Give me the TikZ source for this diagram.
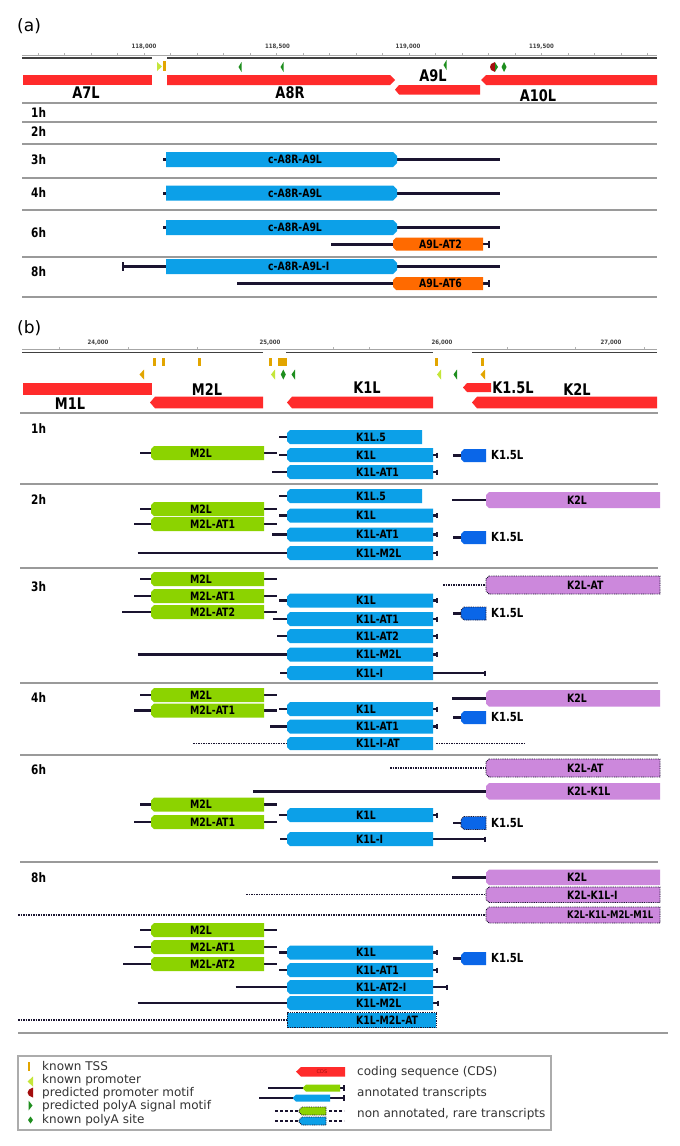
\documentclass[tikz,border=0pt]{standalone}
\usepackage{fontspec}
\setmainfont{DejaVu Sans}
\newfontfamily\cond{DejaVu Sans Condensed}
\newfontfamily\condn{DejaVu Sans Condensed}[FakeStretch=0.9]
\definecolor{cred}{HTML}{FF2B2B}
\definecolor{cblue}{HTML}{0CA0E8}
\definecolor{cgreen}{HTML}{8CD300}
\definecolor{cpurple}{HTML}{CC88DC}
\definecolor{corange}{HTML}{FF6A00}
\definecolor{cdblue}{HTML}{0A66E8}
\definecolor{ctail}{HTML}{1A1430}
\definecolor{csep}{HTML}{9A9A9A}
\definecolor{ctss}{HTML}{E2A500}
\definecolor{cprom}{HTML}{C4E63A}
\definecolor{cpolya}{HTML}{1E8E1E}
\definecolor{cpmot}{HTML}{A30D0D}
\newcounter{nn}
% left-chamfered bar: style, x1, x2, y1, y2
\newcommand{\lbar}[5]{\path[#1] ({#2+3},{#4}) -- ({#3},{#4}) -- ({#3},{#5}) -- ({#2+3},{#5}) -- ({#2},{#5-3}) -- ({#2},{#4+3}) -- cycle;}
% right-chamfered bar
\newcommand{\rbar}[5]{\path[#1] ({#2},{#4}) -- ({#3-4},{#4}) -- ({#3},{#4+4}) -- ({#3},{#5-4}) -- ({#3-4},{#5}) -- ({#2},{#5}) -- cycle;}
\newcommand{\lbl}[3][]{\stepcounter{nn}\node[tl,#1] (n\thenn) at #2 {#3};}
% M2L transcript: ytop, left tail start, label
\newcommand{\Mtwo}[3]{%
 \draw[tail] (#2,{#1+7}) -- (153,{#1+7});
 \draw[tail] (262,{#1+7}) -- (277,{#1+7});
 \lbar{fill=cgreen}{151}{264}{#1}{#1+14}
 \lbl{(190,{#1+7})}{#3}}
% K1L transcript: ytop, left tail start, right end, label
\newcommand{\Kone}[4]{%
 \draw[tail] (#2,{#1+7}) -- (289,{#1+7});
 \draw[tail] (431,{#1+7}) -- (#3,{#1+7});
 \draw[tk] (#3,{#1+4.5}) -- (#3,{#1+9.5});
 \lbar{fill=cblue}{287}{433}{#1}{#1+14}
 \lbl{(356,{#1+7})}{#4}}
\newcommand{\Konefive}[1]{%
 \draw[tail] (279,{#1+7}) -- (289,{#1+7});
 \lbar{fill=cblue}{287}{422}{#1}{#1+14}
 \lbl{(356,{#1+7})}{K1L.5}}
% K1.5L: ytop, extra style
\newcommand{\Kfive}[2]{%
 \draw[tail] (453,{#1+6.5}) -- (463,{#1+6.5});
 \lbar{fill=cdblue,#2}{461}{486}{#1}{#1+13}
 \lbl[font=\condn\bfseries\fontsize{12.5}{14}\selectfont]{(491,{#1+6.5})}{K1.5L}}
% K2L: ytop, tail start, tail style, bar style, height, label
\newcommand{\Ktwo}[6]{%
 \draw[#3] (#2,{#1+#5/2}) -- (488,{#1+#5/2});
 \lbar{fill=cpurple,#4}{486}{660}{#1}{#1+#5}
 \lbl{(567,{#1+#5/2})}{#6}}
% c-A8R-A9L: ytop, left tail start, label
\newcommand{\cAR}[3]{%
 \draw[atail] (#2,{#1+7.5}) -- (168,{#1+7.5});
 \draw[atail] (394,{#1+7.5}) -- (500,{#1+7.5});
 \rbar{fill=cblue}{166}{397}{#1}{#1+15}
 \lbl{(268,{#1+7.5})}{#3}}
% A9L-AT: ytop, tail start, label
\newcommand{\Anine}[3]{%
 \draw[atail] (#2,{#1+6.5}) -- (395,{#1+6.5});
 \draw[tail] (482,{#1+6.5}) -- (489,{#1+6.5});
 \draw[tk] (489,{#1+3}) -- (489,{#1+10});
 \lbar{fill=corange}{393}{483}{#1}{#1+13}
 \lbl{(419,{#1+6.5})}{#3}}
\begin{document}
\begin{tikzpicture}[x=1pt,y=-1pt,
 tail/.style={draw=ctail,line width=2.5pt},
 atail/.style={draw=ctail,line width=3pt},
 dtail/.style={draw=ctail,line width=1.1pt,dash pattern=on 1.6pt off 0.9pt},
 tk/.style={draw=ctail,line width=1.3pt},
 sep/.style={draw=csep,line width=1.3pt},
 dotb/.style={draw=ctail,line width=0.8pt,dash pattern=on 0.9pt off 0.9pt},
 tl/.style={font=\condn\bfseries\fontsize{11.5}{13}\selectfont,inner sep=0pt,anchor=west},
 cdsl/.style={font=\condn\bfseries\fontsize{16}{18}\selectfont,inner sep=0pt},
 hl/.style={font=\condn\bfseries\fontsize{13}{15}\selectfont,inner sep=0pt,anchor=west},
 rl/.style={font=\cond\bfseries\fontsize{6}{7}\selectfont,inner sep=0pt,text=black!75},
 leg/.style={font=\fontsize{12}{14}\selectfont,inner sep=0pt,anchor=west,text=black!80},
 pl/.style={font=\fontsize{17}{20}\selectfont,inner sep=0pt,anchor=west},
 rtk/.style={draw=gray!60,line width=0.6pt}]
\useasboundingbox (0,0) rectangle (680,1146);
\fill[white] (0,0) rectangle (680,1146);

%%%%%%%%%%%%%%%% panel (a)
\node[pl] (pa) at (17,26) {(a)};
\draw[gray!70,line width=0.8pt] (22,55.5) -- (657,55.5);
\draw[black!75,line width=1.8pt] (22,58.3) -- (152,58.3) (167,58.3) -- (657,58.3);
\foreach \i in {-4,...,19} \draw[rtk] ({144+26.5*\i},55) -- ({144+26.5*\i},52.5);
\node[rl] (ta1) at (144,47) {118,000};
\node[rl] (ta2) at (277.5,47) {118,500};
\node[rl] (ta3) at (408,47) {119,000};
\node[rl] (ta4) at (541.5,47) {119,500};
% markers
\fill[cprom] (157,62) -- (162,66.5) -- (157,71) -- cycle;
\fill[ctss] (163,60.5) rectangle (166,71);
\foreach \x in {240,282} \fill[cpolya] ({\x+1.5},62) -- ({\x-1.5},67) -- ({\x+1.5},72) -- cycle;
\fill[cpolya] (446.5,60) -- (443.5,65) -- (446.5,70) -- cycle;
\fill[cpmot] (495,62) -- (491,64) -- (490,67) -- (491,70) -- (495,72) -- cycle;
\fill[cpolya] (495,62.5) -- (498,67) -- (495,71.5) -- cycle;
\fill[cpolya] (504,62) -- (506.5,67) -- (504,72) -- (501.5,67) -- cycle;
% CDS
\fill[cred] (23,75) rectangle (152,85);
\fill[cred] (167,75) -- (390,75) -- (395,80) -- (390,85) -- (167,85) -- cycle;
\fill[cred] (399,85) -- (480,85) -- (480,94.5) -- (399,94.5) -- (395,89.7) -- cycle;
\fill[cred] (486,75) -- (657,75) -- (657,85) -- (486,85) -- (481,80) -- cycle;
\node[cdsl] (a7l) at (86,93) {A7L};
\node[cdsl] (a8r) at (290,93) {A8R};
\node[cdsl] (a9l) at (433,75.5) {A9L};
\node[cdsl] (a10l) at (538,96) {A10L};
% separators
\foreach \y in {103,122,144,178,210,257,297} \draw[sep] (22,\y) -- (657,\y);
\node[hl] (a1h) at (31,113) {1h};
\node[hl] (a2h) at (31,132) {2h};
\node[hl] (a3h) at (31,160) {3h};
\node[hl] (a4h) at (31,193) {4h};
\node[hl] (a6h) at (31,233) {6h};
\node[hl] (a8h) at (31,272) {8h};
\cAR{152}{163}{c-A8R-A9L}
\cAR{185.5}{163}{c-A8R-A9L}
\cAR{220}{163}{c-A8R-A9L}
\Anine{237.5}{331}{A9L-AT2}
\cAR{259}{123}{c-A8R-A9L-I}
\draw[tk] (123,262) -- (123,271);
\Anine{277}{237}{A9L-AT6}

%%%%%%%%%%%%%%%% panel (b)
\node[pl] (pb) at (17,328) {(b)};
\draw[gray!70,line width=0.8pt] (22,349.5) -- (657,349.5);
\draw[black!75,line width=1.8pt] (22,352.5) -- (263,352.5) (286,352.5) -- (433,352.5) (472,352.5) -- (657,352.5);
\foreach \x in {59,128,197,333,369,507,575,644} \draw[rtk] (\x,349) -- (\x,346.5);
\node[rl] (tb1) at (98,342.5) {24,000};
\node[rl] (tb2) at (270,342.5) {25,000};
\node[rl] (tb3) at (442,342.5) {26,000};
\node[rl] (tb4) at (611,342.5) {27,000};
% TSS
\foreach \x in {154.3,163.3,199,270.7,436.7,482.7} \fill[ctss] ({\x-1.5},358) rectangle ({\x+1.5},366);
\fill[ctss] (277.5,358) rectangle (286.5,366);
% promoter / polyA markers
\fill[ctss] (144,369.5) -- (139.5,374.5) -- (144,379.5) -- cycle;
\fill[ctss] (485,369.5) -- (480.5,374.5) -- (485,379.5) -- cycle;
\fill[cprom] (275,369.5) -- (271,374.5) -- (275,379.5) -- cycle;
\fill[cprom] (441,369.5) -- (437,374.5) -- (441,379.5) -- cycle;
\fill[cpolya] (283.3,369.5) -- (285.8,374.5) -- (283.3,379.5) -- (280.8,374.5) -- cycle;
\fill[cpolya] (295,369.5) -- (291.5,374.5) -- (295,379.5) -- cycle;
\fill[cpolya] (457,369.5) -- (453.5,374.5) -- (457,379.5) -- cycle;
% CDS
\fill[cred] (23,383.3) rectangle (152,395);
\fill[cred] (155,396.7) -- (263,396.7) -- (263,408.3) -- (155,408.3) -- (150,402.5) -- cycle;
\fill[cred] (292,396.7) -- (433,396.7) -- (433,408.3) -- (292,408.3) -- (287,402.5) -- cycle;
\fill[cred] (477,396.7) -- (657,396.7) -- (657,408.3) -- (477,408.3) -- (472,402.5) -- cycle;
\fill[cred] (467,383) -- (491,383) -- (491,392) -- (467,392) -- (463,387.5) -- cycle;
\node[cdsl] (m1l) at (70,404) {M1L};
\node[cdsl] (m2l) at (207,389.5) {M2L};
\node[cdsl] (k1l) at (367,388) {K1L};
\node[cdsl] (k15l) at (513,388) {K1.5L};
\node[cdsl] (k2l) at (577,389.5) {K2L};
% separators
\foreach \y in {413,484,568,683,755,862} \draw[sep] (20,\y) -- (658,\y);
\draw[sep] (18,1033) -- (668,1033);
\node[hl] (b1h) at (31,429) {1h};
\node[hl] (b2h) at (31,500) {2h};
\node[hl] (b3h) at (31,587) {3h};
\node[hl] (b4h) at (31,698) {4h};
\node[hl] (b6h) at (31,770) {6h};
\node[hl] (b8h) at (31,878) {8h};
% 1h
\Konefive{430}
\Mtwo{446}{140}{M2L}
\Kone{448}{279}{437}{K1L}
\Kfive{449}{}
\Kone{465}{272}{437}{K1L-AT1}
% 2h
\Konefive{489}
\Ktwo{492}{452}{tail}{}{16}{K2L}
\Mtwo{502}{140}{M2L}
\Kone{508.5}{279}{437}{K1L}
\Mtwo{517}{134}{M2L-AT1}
\Kone{527.5}{272}{437}{K1L-AT1}
\Kfive{531}{}
\Kone{546}{137.5}{437}{K1L-M2L}
% 3h
\Mtwo{572}{140}{M2L}
\Ktwo{576}{443}{dtail}{dotb}{18}{K2L-AT}
\Mtwo{589}{134}{M2L-AT1}
\Kone{593.5}{279}{437}{K1L}
\Mtwo{605}{122}{M2L-AT2}
\Kfive{607}{dotb}
\Kone{612}{272.6}{437}{K1L-AT1}
\Kone{629}{277}{437}{K1L-AT2}
\Kone{647.5}{137.5}{437}{K1L-M2L}
\Kone{666}{280}{485}{K1L-I}
% 4h
\Mtwo{688}{140}{M2L}
\Ktwo{690}{452}{tail}{}{16.5}{K2L}
\Kone{702}{279}{437}{K1L}
\Mtwo{703.5}{134}{M2L-AT1}
\Kfive{711}{}
\Kone{719.5}{270}{437}{K1L-AT1}
\draw[dtail] (193,743.5) -- (289,743.5);
\draw[dtail] (436,743.5) -- (525,743.5);
\lbar{fill=cblue}{287}{433}{737}{750}
\lbl{(356,743.5)}{K1L-I-AT}
% 6h
\Ktwo{759}{390}{dtail}{dotb}{18}{K2L-AT}
\Ktwo{783}{253}{tail}{}{16.5}{K2L-K1L}
\Mtwo{797.5}{140}{M2L}
\Kone{808}{279}{437}{K1L}
\Mtwo{815}{134}{M2L-AT1}
\Kfive{816.5}{dotb}
\Kone{832}{280}{485}{K1L-I}
% 8h
\Ktwo{869.5}{452}{tail}{}{15.5}{K2L}
\Ktwo{887}{246}{dtail}{dotb}{15.5}{K2L-K1L-I}
\draw[dtail] (18,915) -- (488,915);
\lbar{fill=cpurple,dotb}{486}{660}{907}{923}
\lbl[font=\condn\bfseries\fontsize{10.5}{12}\selectfont]{(567,915)}{K2L-K1L-M2L-M1L}
\Mtwo{923}{140}{M2L}
\Mtwo{940}{134}{M2L-AT1}
\Kone{945.5}{279}{437}{K1L}
\Kfive{952}{}
\Mtwo{957}{123}{M2L-AT2}
\Kone{963}{279}{437}{K1L-AT1}
\Kone{980}{235.5}{447}{K1L-AT2-I}
\Kone{996}{137.5}{438}{K1L-M2L}
\draw[dtail] (18,1020) -- (288,1020);
\path[fill=cblue,dotb] (287,1012.5) rectangle (436,1027.5);
\lbl{(356,1020)}{K1L-M2L-AT}

%%%%%%%%%%%%%%%% legend
\draw[draw=gray!65,line width=1.2pt] (18,1056) rectangle (551,1130);
\fill[ctss] (27.5,1061.5) rectangle (30,1071);
\fill[cprom] (33,1076.5) -- (27.5,1081.5) -- (33,1086.5) -- cycle;
\fill[cpmot] (33,1087.5) -- (29,1089.5) -- (27.5,1092.5) -- (29,1095.5) -- (33,1097.5) -- cycle;
\fill[cpolya] (28.5,1100.5) -- (32.5,1105.5) -- (28.5,1110.5) -- cycle;
\fill[cpolya] (30.5,1116.5) -- (33,1120) -- (30.5,1123.5) -- (28,1120) -- cycle;
\node[leg] (l1) at (42,1066) {known TSS};
\node[leg] (l2) at (42,1080) {known promoter};
\node[leg] (l3) at (42,1093) {predicted promoter motif};
\node[leg] (l4) at (42,1106) {predicted polyA signal motif};
\node[leg] (l5) at (42,1120) {known polyA site};
% CDS icon
\fill[cred] (301,1067) -- (345,1067) -- (345,1076.5) -- (301,1076.5) -- (296,1071.7) -- cycle;
\node[font=\fontsize{5}{6}\selectfont,text=cpmot,inner sep=0pt] (lcds) at (322,1071.7) {CDS};
\node[leg] (l6) at (357,1072) {coding sequence (CDS)};
% annotated transcripts
\draw[tail,line width=1.6pt] (268,1088) -- (305,1088);
\draw[tail,line width=1.6pt] (338,1088) -- (344,1088);
\draw[tk] (344,1085) -- (344,1091);
\lbar{fill=cgreen}{303}{340}{1084.5}{1091.5}
\draw[tail,line width=1.6pt] (259,1098) -- (295,1098);
\draw[tail,line width=1.6pt] (328,1098) -- (344,1098);
\draw[tk] (344,1095) -- (344,1101);
\lbar{fill=cblue}{293}{330}{1094.5}{1101.5}
\node[leg] (l7) at (357,1093) {annotated transcripts};
% non annotated transcripts
\draw[ctail,line width=1.4pt,dash pattern=on 3pt off 2pt] (275,1111) -- (298,1111) (329,1111) -- (344,1111);
\draw[ctail,line width=1.4pt,dash pattern=on 3pt off 2pt] (275,1121) -- (298,1121) (329,1121) -- (344,1121);
\lbar{fill=cgreen,dotb}{299}{326}{1107}{1115}
\lbar{fill=cblue,dotb}{299}{326}{1117}{1125}
\node[leg] (l8) at (357,1114) {non annotated, rare transcripts};
\end{tikzpicture}
\end{document}
